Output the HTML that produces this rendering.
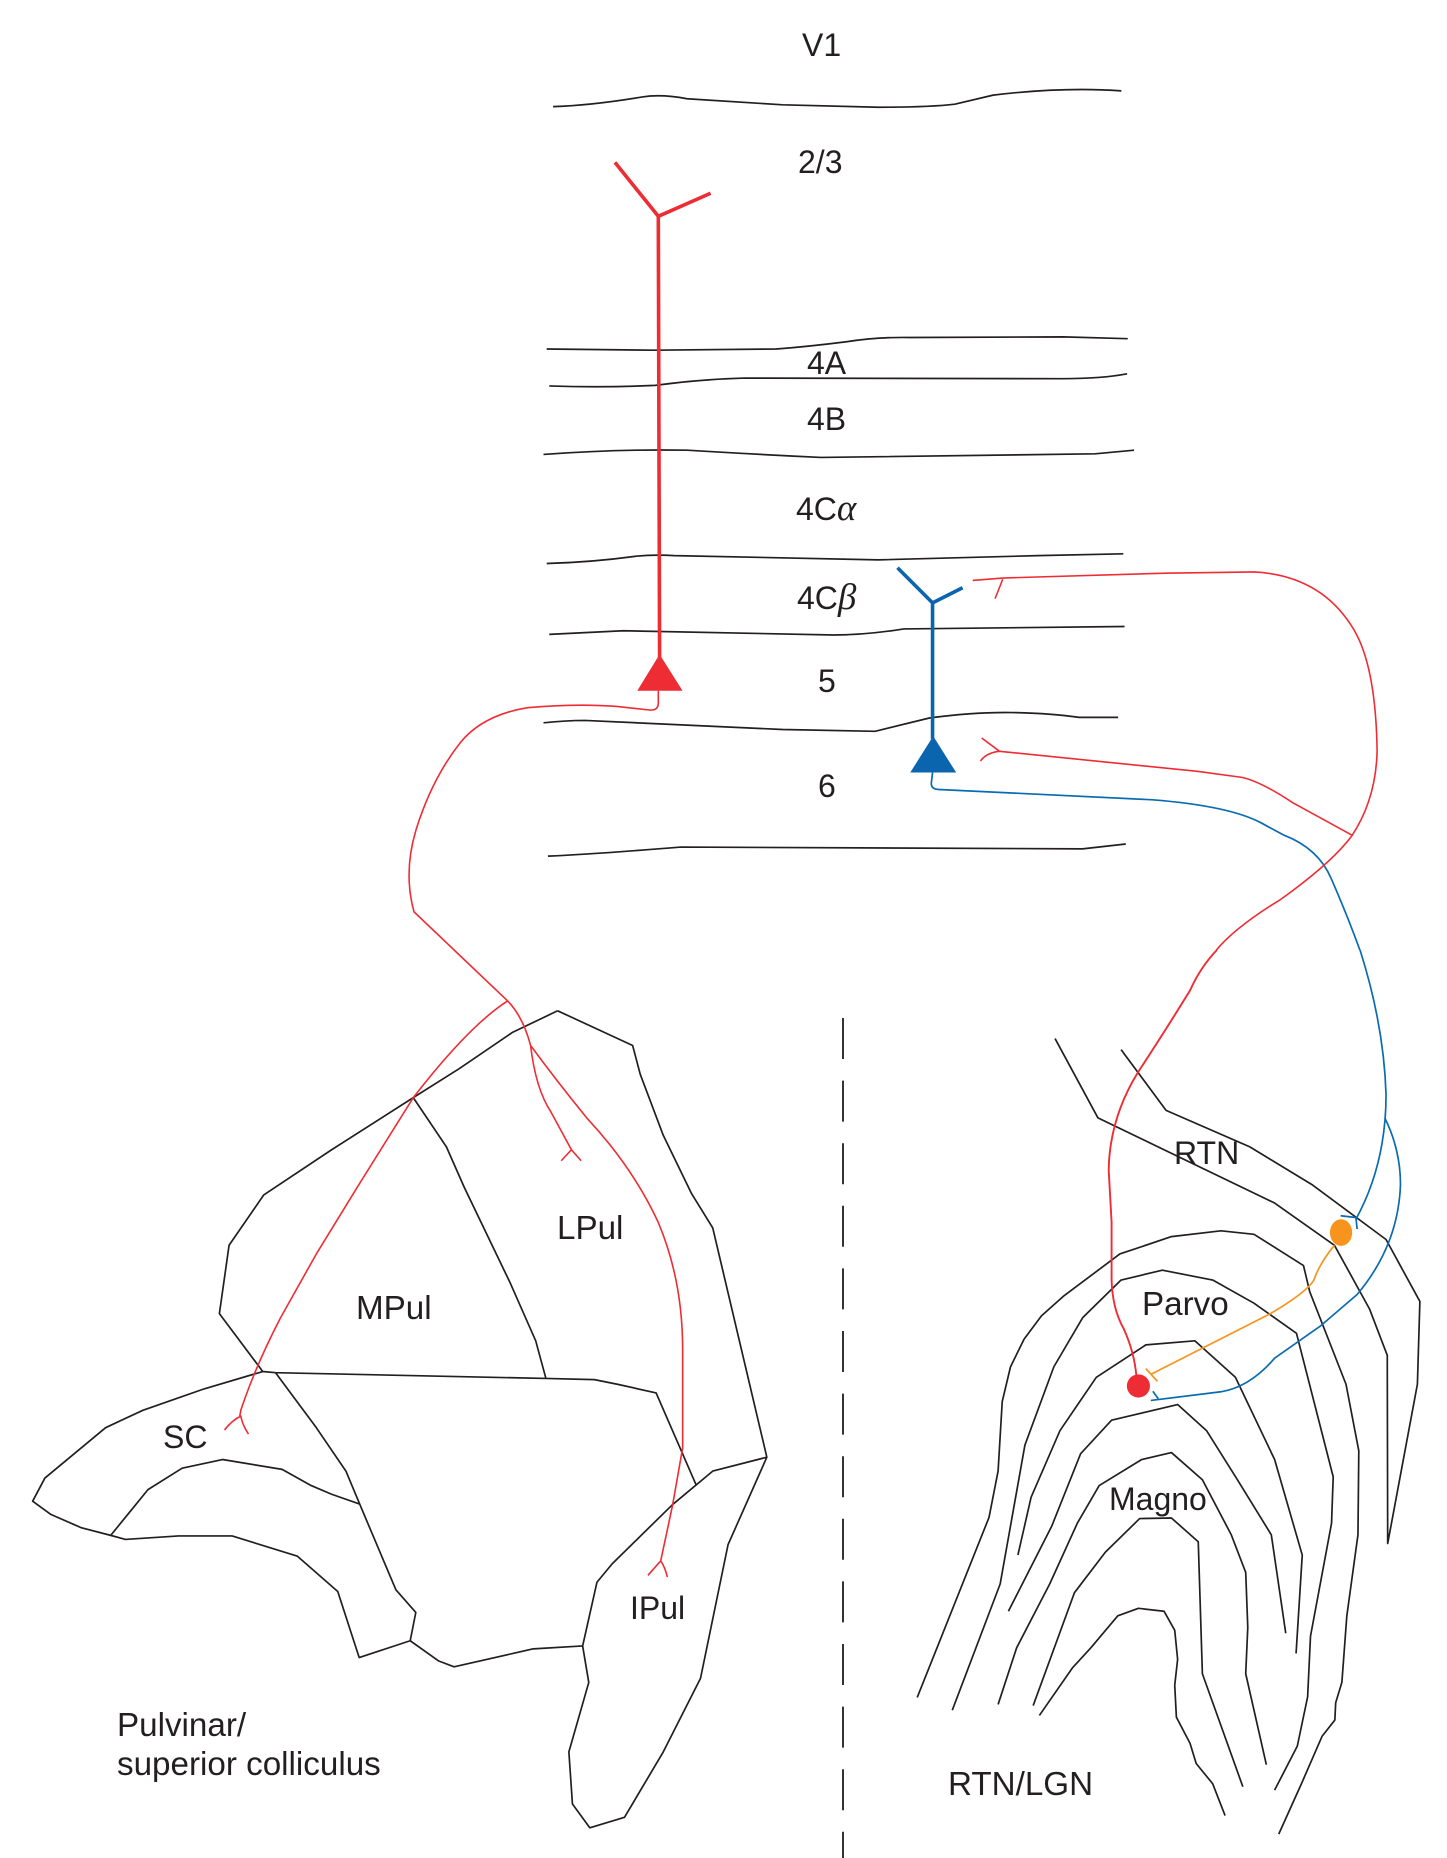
<!DOCTYPE html>
<html>
<head>
<meta charset="utf-8">
<style>
html,body{margin:0;padding:0;background:#fff;}
svg{display:block;}
path,polyline,line{fill:none;vector-effect:non-scaling-stroke;stroke-linejoin:round;stroke-linecap:butt;}
.k{stroke:#231f20;stroke-width:1.7;}
.r{stroke:#ee2c34;stroke-width:1.6;}
.rt{stroke:#ee2c34;stroke-width:3.6;}
.b{stroke:#0a6cb0;stroke-width:1.7;}
.bt{stroke:#0a64ae;stroke-width:3.6;}
.o{stroke:#f7941e;stroke-width:1.7;}
text{font-family:"Liberation Sans",sans-serif;font-size:32px;fill:#231f20;}
.l{font-size:33.2px;}
.g{font-family:"Liberation Serif",serif;font-style:italic;font-size:37px;}
</style>
</head>
<body>
<svg width="1447" height="1858" viewBox="0 0 1447 1858" xmlns="http://www.w3.org/2000/svg">
<rect width="1447" height="1858" fill="#fff"/>

<!-- Cortex -->
<g transform="translate(400 0) scale(.6378 .6059)">
<path class="k" d="M240,176 Q300,174 380,160 Q410,155 450,163 L600,173 L750,177 Q830,177 870,172 L930,157 Q1040,143 1131,150"/>
<path class="k" d="M230,576 L400,578 L590,576 Q640,572 700,564 Q750,556 800,557 L1040,556 L1141,559"/>
<path class="k" d="M234,637 Q320,640 400,636 Q470,626 540,624 L1040,625 Q1100,625 1140,617"/>
<path class="k" d="M225,750 Q340,741 450,743 Q560,750 660,755 L1090,749 L1151,743"/>
<path class="k" d="M230,930 Q300,928 370,918 Q400,915 430,917 L750,924 L1000,917 L1134,914"/>
<path class="k" d="M234,1047 L350,1041 L680,1048 Q730,1048 790,1038 L1136,1034"/>
<path class="k" d="M225,1193 Q260,1189 290,1189 L600,1204 L745,1207 L830,1185 Q900,1175 960,1176 Q1020,1177 1065,1184 L1126,1184"/>
<path class="k" d="M232,1413 Q300,1410 440,1398 L1070,1401 L1138,1393"/>

<polyline class="rt" points="337,268 405,357 487,319"/>
<line class="rt" x1="405" y1="357" x2="407" y2="1085"/>
<polygon points="407,1080 372,1140 443,1140" fill="#ee2c34"/>
<path class="r" d="M405,1140 L405,1162 Q404,1172 393,1172 L340,1166 Q280,1161 200,1168 Q130,1180 95,1225 Q50,1285 25,1370 Q5,1440 22,1505 L85,1568"/>

<polyline class="bt" points="780,937 835,995 882,970"/>
<line class="bt" x1="835" y1="995" x2="835" y2="1220"/>
<polygon points="836,1215 800,1275 872,1275" fill="#0a64ae"/>
<path class="b" d="M835,1275 L833,1293 Q833,1303 845,1303 L1180,1320 Q1300,1330 1350,1358 L1385,1378 Q1440,1400 1460,1450 Q1485,1510 1505,1568"/>

<path class="r" d="M898,958 L945,954 L1200,946 L1340,944 Q1440,950 1490,1030 Q1530,1090 1532,1240 Q1530,1320 1492,1380 Q1460,1425 1380,1485 Q1310,1530 1280,1568"/>
<line class="r" x1="945" y1="956" x2="933" y2="988"/>
<path class="r" d="M1492,1378 L1400,1325 Q1350,1290 1320,1283 L1250,1273 L940,1240"/>
<path class="r" d="M912,1218 L940,1240 Q920,1242 910,1256"/>
</g>

<!-- Pulvinar -->
<g transform="translate(0 950) scale(.5102 .579)">
<polyline class="k" points="1093,105 1240,165 1255,215 1300,320 1355,420 1397,480 1503,876 1427,1027 1373,1258 1300,1385 1224,1498 1156,1516 1122,1475 1115,1385 1154,1265 1142,1202 1170,1092 1200,1060 1318,958 1397,900 1503,876"/>
<polyline class="k" points="1093,105 1005,142 900,205 810,255 650,345 517,423 449,510 430,628 515,728 540,730 1070,740 1165,742 1210,750 1286,765 1365,925"/>
<polyline class="k" points="810,255 875,340 910,410 1000,575 1050,675 1070,740"/>
<polyline class="k" points="515,728 400,758 280,795 207,825 88,912 64,952 100,975 160,998 217,1011 246,1018 350,1012 455,1012 583,1047 662,1108 704,1222 804,1193 815,1144 776,1105 705,957 678,900 620,825 540,730"/>
<polyline class="k" points="217,1011 290,932 357,895 436,880 553,897 610,925 650,940 705,957"/>
<polyline class="k" points="804,1193 860,1228 890,1238 1045,1207 1142,1202"/>

<path class="r" d="M890,0 L995,88 Q1025,115 1040,165"/>
<path class="r" d="M995,88 Q920,130 810,255 L700,410 L620,525 L550,635 Q500,720 472,795 L470,805"/>
<path class="r" d="M440,829 Q455,812 472,805 Q475,820 487,836"/>
<path class="r" d="M1040,165 Q1050,240 1080,280 L1120,345"/>
<polyline class="r" points="1100,364 1120,345 1139,364"/>
<path class="r" d="M1040,165 Q1090,225 1150,290 Q1240,375 1290,470 Q1338,570 1338,690 L1338,860 L1318,960 L1295,1055"/>
<path class="r" d="M1270,1080 L1295,1055 Q1303,1065 1308,1083"/>
</g>

<!-- LGN -->
<g transform="translate(800 950) scale(.4127 .579)">
<polyline class="k" points="618,153 722,290 1150,437 1295,510 1380,620 1423,700 1424,1025 1496,750 1502,607 1420,500 1240,405 1090,340 887,277 778,172"/>
<polyline class="k" points="284,1291 458,980 480,900 490,780 510,720 543,672 585,632 640,597 775,525 900,495 1020,485 1100,491 1220,545 1235,590 1323,750 1354,865 1352,1010 1325,1150 1313,1265 1298,1300 1296,1330 1265,1358 1215,1440 1160,1527"/>
<polyline class="k" points="369,1313 485,1095 545,855 615,720 685,635 778,570 878,553 1000,570 1100,610 1203,662 1292,910 1288,990 1237,1185 1230,1290 1205,1375 1150,1451"/>
<polyline class="k" points="528,1045 560,945 630,830 718,738 838,682 957,675 1055,738 1150,880 1217,1045 1202,1215"/>
<polyline class="k" points="505,1142 610,995 680,870 755,812 915,785 985,830 1060,915 1142,1010 1177,1180"/>
<polyline class="k" points="480,1303 525,1205 605,1095 672,990 725,925 828,880 900,868 975,915 1045,1010 1080,1075 1085,1170 1080,1250 1130,1407"/>
<polyline class="k" points="565,1305 665,1110 740,1040 823,982 900,981 965,1022 975,1250 1073,1445"/>
<polyline class="k" points="580,1322 660,1240 705,1205 770,1150 820,1137 882,1142 908,1175 915,1225 908,1270 912,1325 945,1370 960,1405 1000,1440 1030,1495"/>

<path class="r" style="stroke-width:1.9" d="M1010,0 Q970,30 945,70 Q880,145 820,210 Q750,290 748,380 L755,470 L755,570 Q757,620 785,655 Q810,695 815,735"/>
<path class="b" d="M1357,0 Q1415,130 1420,250 Q1420,370 1347,465"/>
<line class="b" x1="1310" y1="459" x2="1347" y2="462"/>
<line class="b" x1="1347" y1="462" x2="1350" y2="482"/>
<path class="b" d="M1417,290 Q1455,345 1455,405 Q1450,510 1350,595 L1260,650 L1150,705 Q1090,755 1020,763 L850,778"/>
<line class="b" x1="855" y1="762" x2="868" y2="775"/>
<path class="o" d="M1295,510 Q1260,540 1245,570 Q1230,590 1140,628 L850,733"/>
<line class="o" x1="838" y1="723" x2="866" y2="745"/>
<ellipse cx="1311" cy="488" rx="27" ry="23" fill="#f7941e"/>
<ellipse cx="820" cy="753" rx="28" ry="20" fill="#ee2c34"/>
</g>

<!-- Dashed divider -->
<line x1="843" y1="1018" x2="843" y2="1858" stroke="#333" stroke-width="2" stroke-dasharray="41 21.6" style="stroke-linecap:butt"/>

<!-- Labels -->
<text x="802" y="56">V1</text>
<text x="798" y="173">2/3</text>
<text x="807" y="374">4A</text>
<text x="807" y="430">4B</text>
<text x="796" y="520">4C<tspan class="g">α</tspan></text>
<text x="797" y="609">4C<tspan class="g">β</tspan></text>
<text x="818" y="692">5</text>
<text x="818" y="797">6</text>
<text class="l" x="356" y="1319">MPul</text>
<text class="l" x="557" y="1239">LPul</text>
<text x="163" y="1448">SC</text>
<text x="630" y="1619">IPul</text>
<text class="l" x="117" y="1736">Pulvinar/</text>
<text class="l" x="117" y="1775">superior colliculus</text>
<text x="1174" y="1164">RTN</text>
<text class="l" x="1142" y="1315">Parvo</text>
<text x="1109" y="1510">Magno</text>
<text class="l" x="948" y="1795">RTN/LGN</text>
</svg>
</body>
</html>
